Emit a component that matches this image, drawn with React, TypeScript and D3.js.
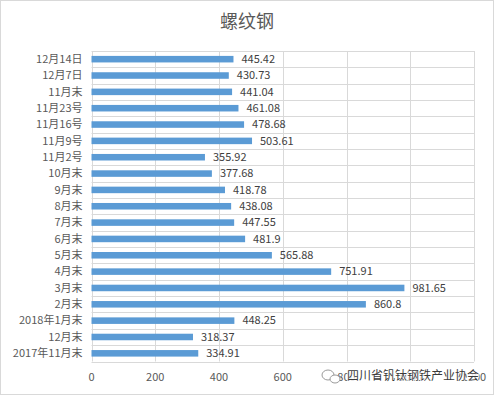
import { useEffect, useRef } from "react";
import * as d3 from "d3";

const categories = [
  "12月14日", "12月7日", "11月末", "11月23号", "11月16号", "11月9号", "11月2号",
  "10月末", "9月末", "8月末", "7月末", "6月末", "5月末", "4月末", "3月末", "2月末",
  "2018年1月末", "12月末", "2017年11月末",
];
const values = [
  445.42, 430.73, 441.04, 461.08, 478.68, 503.61, 355.92,
  377.68, 418.78, 438.08, 447.55, 481.9, 565.88, 751.91, 981.65, 860.8,
  448.25, 318.37, 334.91,
];
const xTicks = [0, 200, 400, 600, 800, 1000, 1200];

const W = 494;
const H = 395;

export default function App() {
  const svgRef = useRef<SVGSVGElement>(null);

  useEffect(() => {
    const svg = d3.select(svgRef.current);
    svg.selectAll("*").remove();

    const left = 91.5;
    const right = 474;
    const top = 51;
    const bottom = 361.5;
    const font = "'Microsoft YaHei', 'Noto Sans CJK SC', sans-serif";

    svg.append("rect")
      .attr("x", 0.5).attr("y", 0.5)
      .attr("width", W - 1).attr("height", H - 1)
      .attr("fill", "white").attr("stroke", "#d9d9d9");

    const x = d3.scaleLinear().domain([0, 1200]).range([left, right]);
    const y = d3.scaleBand().domain(categories).range([top, bottom]).paddingInner(0.6).paddingOuter(0.3);
    const band = d3.scaleBand().domain(categories).range([top, bottom]);

    // grid
    svg.append("g").selectAll("line.v").data(xTicks).join("line")
      .attr("x1", (d) => Math.round(x(d)) + 0.5).attr("x2", (d) => Math.round(x(d)) + 0.5)
      .attr("y1", top).attr("y2", bottom)
      .attr("stroke", "#d9d9d9");
    svg.append("g").selectAll("line.h").data(categories.concat(["_end"])).join("line")
      .attr("x1", left).attr("x2", right)
      .attr("y1", (d, i) => Math.round(top + i * band.step()) + 0.5)
      .attr("y2", (d, i) => Math.round(top + i * band.step()) + 0.5)
      .attr("stroke", "#d9d9d9");

    // bars
    svg.append("g").selectAll("rect").data(values).join("rect")
      .attr("x", x(0))
      .attr("y", (d, i) => y(categories[i])!)
      .attr("width", (d) => x(d) - x(0))
      .attr("height", y.bandwidth())
      .attr("fill", "#5b9bd5");

    // value labels
    svg.append("g").selectAll("text").data(values).join("text")
      .attr("x", (d) => x(d) + 8)
      .attr("y", (d, i) => y(categories[i])! + y.bandwidth() / 2)
      .attr("dy", "0.35em")
      .attr("fill", "#404040")
      .style("font-family", font)
      .style("font-size", "11px")
      .text((d) => String(d));

    // category labels
    svg.append("g").selectAll("text").data(categories).join("text")
      .attr("x", left - 9)
      .attr("y", (d) => y(d)! + y.bandwidth() / 2)
      .attr("dy", "0.35em")
      .attr("text-anchor", "end")
      .attr("fill", "#595959")
      .style("font-family", font)
      .style("font-size", "11px")
      .text((d) => d);

    // x tick labels
    svg.append("g").selectAll("text").data(xTicks).join("text")
      .attr("x", (d) => x(d))
      .attr("y", 377)
      .attr("dy", "0.35em")
      .attr("text-anchor", "middle")
      .attr("fill", "#595959")
      .style("font-family", font)
      .style("font-size", "11px")
      .text((d) => String(d));

    // title
    svg.append("text")
      .attr("x", 247).attr("y", 28)
      .attr("text-anchor", "middle")
      .attr("fill", "#595959")
      .style("font-family", font)
      .style("font-size", "18px")
      .text("螺纹钢");

    // watermark
    const wm = svg.append("g").attr("transform", "translate(321,376)");
    wm.append("ellipse").attr("cx", 7).attr("cy", -1).attr("rx", 6).attr("ry", 5)
      .attr("fill", "white").attr("stroke", "#9a9a9a").attr("stroke-width", 1);
    wm.append("ellipse").attr("cx", 14).attr("cy", 3).attr("rx", 5).attr("ry", 4)
      .attr("fill", "white").attr("stroke", "#9a9a9a").attr("stroke-width", 1);
    wm.append("text")
      .attr("x", 26).attr("y", 0).attr("dy", "0.35em")
      .attr("fill", "#3a3a3a")
      .attr("stroke", "white").attr("stroke-width", 1.5)
      .attr("paint-order", "stroke")
      .style("font-family", font)
      .style("font-size", "12px")
      .text("四川省钒钛钢铁产业协会");
  }, []);

  return (
    <svg
      ref={svgRef}
      width={W}
      height={H}
      style={{ position: "absolute", left: 0, top: 0 }}
    />
  );
}
